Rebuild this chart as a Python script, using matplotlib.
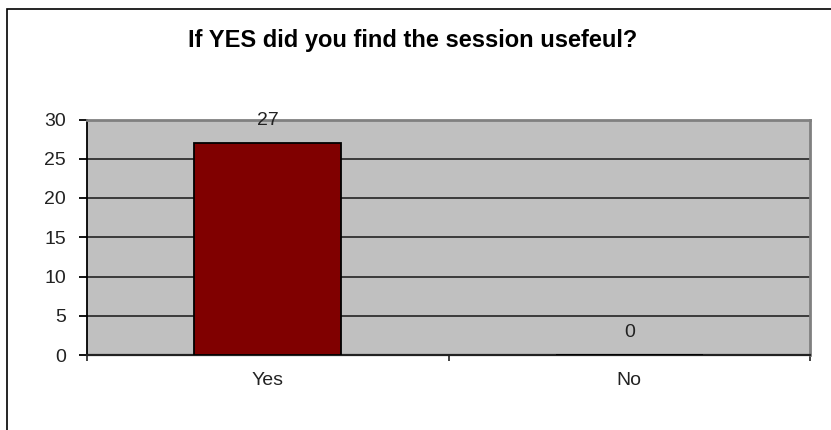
import matplotlib.pyplot as plt
from matplotlib.patches import Rectangle

categories = ['Yes', 'No']
values = [27, 0]
yticks = [0, 5, 10, 15, 20, 25, 30]

plt.rcParams['font.family'] = ['Liberation Sans', 'DejaVu Sans']

W, H = 831, 430
fig = plt.figure(figsize=(W / 100, H / 100), dpi=100)

# marco exterior del grafico (se sale por la derecha y abajo)
fig.patches.append(Rectangle((6.5 / W, -0.1), 1.2, 1 - 8.5 / H + 0.1,
                             transform=fig.transFigure, fill=False,
                             edgecolor='black', linewidth=1.2))

ax = fig.add_axes([87 / W, 1 - 355 / H, (810 - 87) / W, (355 - 119.5) / H])
ax.set_facecolor('#C0C0C0')

x = list(range(len(categories)))
bars = ax.bar(x, values, width=0.407, color='#800000', edgecolor='black',
              linewidth=1.3, zorder=3)

for xi, v in zip(x, values):
    ax.annotate(str(v), (xi, v), xytext=(0, 16.5), textcoords='offset points',
                ha='center', va='center', fontsize=14, color='#222222',
                annotation_clip=False, zorder=5)

ax.set_xlim(-0.5, 1.5)
ax.set_ylim(0, 30)
ax.set_yticks(yticks)
ax.set_yticklabels([str(t) for t in yticks], fontsize=14, color='#222222')
ax.yaxis.grid(True, color='#3a3a3a', linewidth=1.4, zorder=1)
ax.set_axisbelow(True)

ax.set_xticks([-0.5, 0.5, 1.5])
ax.set_xticklabels(['', '', ''])
ax.set_xticks(x, minor=True)
ax.set_xticklabels(categories, minor=True, fontsize=14, color='#222222')
ax.tick_params(axis='x', which='minor', length=0, pad=12)
ax.tick_params(axis='x', which='major', length=4.5, width=1.3, color='#333333')
ax.tick_params(axis='y', length=6, width=1.3, pad=9, color='black')

ax.spines['left'].set_color('black')
ax.spines['left'].set_linewidth(1.3)
ax.spines['bottom'].set_color('#222222')
ax.spines['bottom'].set_linewidth(1.6)
ax.spines['top'].set_color('#808080')
ax.spines['top'].set_linewidth(2)
ax.spines['right'].set_color('#808080')
ax.spines['right'].set_linewidth(2)

fig.text(413 / W, 1 - 41 / H, 'If YES did you find the session usefeul?',
         ha='center', va='center', fontsize=17, fontweight='bold')

fig.savefig('out.png', dpi=100, facecolor='white')
